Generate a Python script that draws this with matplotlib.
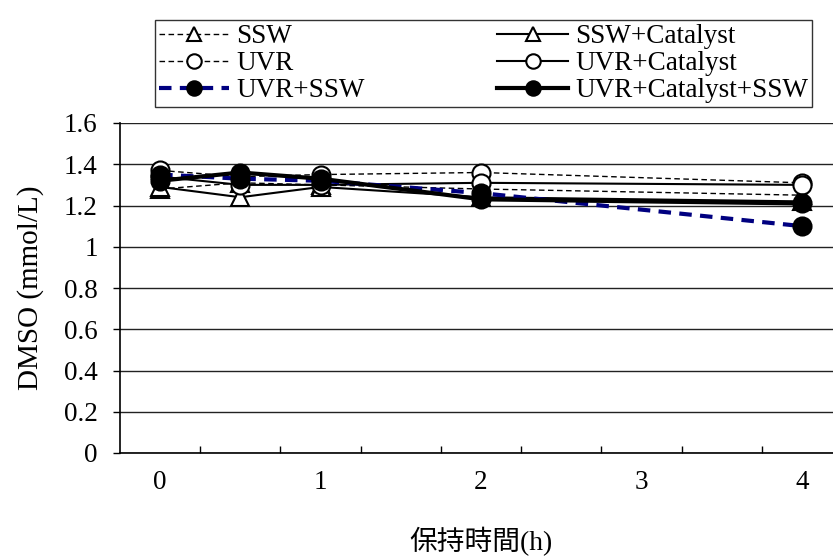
import numpy as np
import matplotlib
matplotlib.use("Agg")
import matplotlib.pyplot as plt

# hours at which DMSO was sampled
hours = [0, 0.5, 1, 2, 4]

# DMSO (mmol/L) per treatment
ssw = [1.28, 1.31, 1.30, 1.28, 1.25]
ssw_cat = [1.29, 1.24, 1.29, 1.24, 1.22]
uvr = [1.37, 1.34, 1.35, 1.36, 1.31]
uvr_cat = [1.34, 1.30, 1.30, 1.31, 1.30]
uvr_ssw = [1.35, 1.33, 1.32, 1.26, 1.10]
uvr_cat_ssw = [1.32, 1.36, 1.33, 1.23, 1.21]

x_ticks = [0, 1, 2, 3, 4]
y_ticks = [0, 0.2, 0.4, 0.6, 0.8, 1, 1.2, 1.4, 1.6]
y_labels = ["0", "0.2", "0.4", "0.6", "0.8", "1", "1.2", "1.4", "1.6"]

plt.rcParams['font.family'] = ['Liberation Serif', 'Noto Sans CJK TC', 'DejaVu Sans']

W, H = 833, 559
fig = plt.figure(figsize=(W / 100, H / 100), dpi=100)
# axes runs a bit past the right edge of the picture, like the original crop
ax = fig.add_axes([120 / W, 1 - 453 / H, (842 - 120) / W, (453 - 123) / H])

ms = 13
l1, = ax.plot(hours, ssw, color='black', lw=1.0, ls=(0, (4, 2.5)), marker='^',
              ms=ms, mfc='white', mec='black', mew=1.5, label='SSW')
l2, = ax.plot(hours, ssw_cat, color='black', lw=1.5, ls='-', marker='^',
              ms=ms, mfc='white', mec='black', mew=1.5, label='SSW+Catalyst')
l3, = ax.plot(hours, uvr, color='black', lw=1.0, ls=(0, (4, 2.5)), marker='o',
              ms=ms, mfc='white', mec='black', mew=1.5, label='UVR')
l4, = ax.plot(hours, uvr_cat, color='black', lw=1.5, ls='-', marker='o',
              ms=ms, mfc='white', mec='black', mew=1.5, label='UVR+Catalyst')
l5, = ax.plot(hours, uvr_ssw, color='#000080', lw=3.0, ls=(0, (3, 2)), marker='o',
              ms=ms, mfc='black', mec='black', mew=1.5, label='UVR+SSW')
l6, = ax.plot(hours, uvr_cat_ssw, color='black', lw=3.0, ls='-', marker='o',
              ms=ms, mfc='black', mec='black', mew=1.5, label='UVR+Catalyst+SSW')

ax.set_xlim(-0.25, 4.25)
ax.set_ylim(0, 1.6)
ax.set_yticks(y_ticks)
ax.set_yticklabels(y_labels)
ax.set_xticks(x_ticks)
ax.set_xticks(np.arange(0.25, 4.25, 0.5), minor=True)
ax.tick_params(axis='x', which='major', length=0, pad=12, labelsize=19.5)
ax.tick_params(axis='x', which='minor', direction='in', length=5, width=1)
ax.tick_params(axis='y', direction='out', length=5, width=1, pad=11, labelsize=19.5)

ax.grid(axis='y', color='#222222', lw=1.0)
ax.set_axisbelow(True)
for s in ['top', 'right']:
    ax.spines[s].set_visible(False)
for s in ['left', 'bottom']:
    ax.spines[s].set_color('black')
    ax.spines[s].set_linewidth(1.2)

ax.set_ylabel('DMSO (mmol/L)', fontsize=21, labelpad=14)
ax.set_xlabel('保持時間(h)', fontsize=20, labelpad=23)

leg = fig.legend(handles=[l1, l3, l5, l2, l4, l6], ncol=2, loc='upper left',
                 bbox_to_anchor=(155 / W, 1 - 108 / H, (812 - 155) / W, (108 - 20) / H),
                 mode='expand', fontsize=19.5, frameon=True, fancybox=False,
                 edgecolor='black', handlelength=2.6, handletextpad=0.26,
                 labelspacing=0.08, borderpad=0.15, markerscale=0.8,
                 borderaxespad=0)
leg.get_frame().set_linewidth(1.0)

fig.savefig('out.png', dpi=100)
